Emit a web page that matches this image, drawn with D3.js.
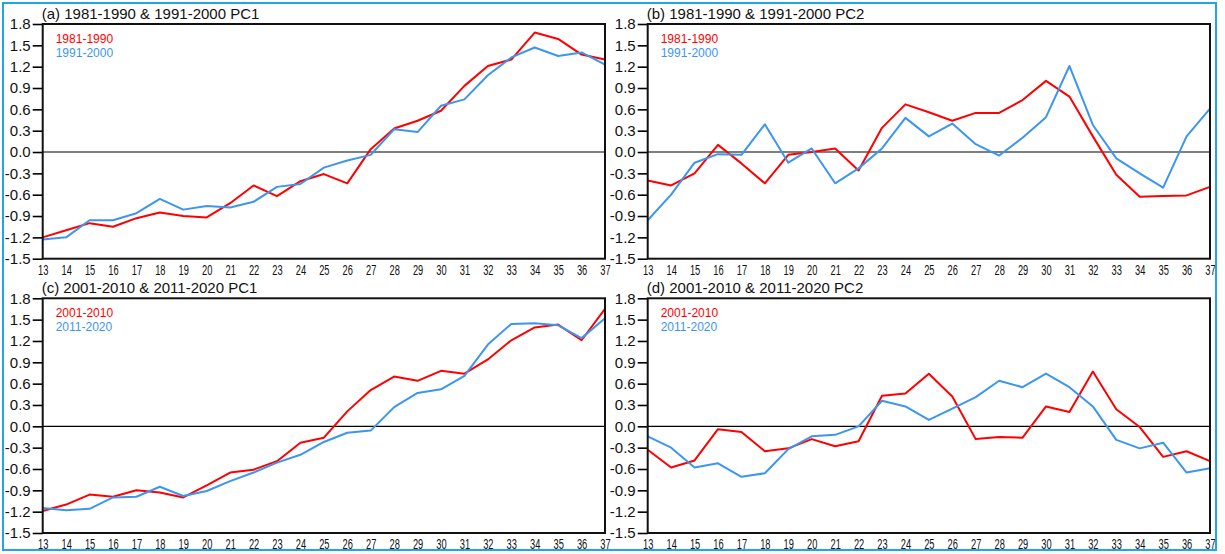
<!DOCTYPE html>
<html>
<head>
<meta charset="utf-8">
<script src="https://cdn.jsdelivr.net/npm/d3@7"></script>
<style>
	body { margin: 0; background: #fff; }
	svg { display: block; font-family: "Liberation Sans", Arial, sans-serif; }
</style>
</head>
<body>
<div id="charts"></div>
<script>
// x categories (days / pentads 13..37)
var categories = [13, 14, 15, 16, 17, 18, 19, 20, 21, 22, 23, 24, 25, 26, 27, 28, 29, 30, 31, 32, 33, 34, 35, 36, 37];
var yTicks = [-1.5, -1.2, -0.9, -0.6, -0.3, 0, 0.3, 0.6, 0.9, 1.2, 1.5, 1.8];

// (a) PC1
var pc1_1981 = [-1.20, -1.10, -1.00, -1.05, -0.93, -0.85, -0.90, -0.92, -0.72, -0.47, -0.62, -0.41, -0.31, -0.44, 0.04, 0.33, 0.44, 0.58, 0.93, 1.21, 1.30, 1.68, 1.59, 1.37, 1.30];
var pc1_1991 = [-1.23, -1.20, -0.96, -0.96, -0.86, -0.66, -0.81, -0.76, -0.78, -0.70, -0.49, -0.45, -0.22, -0.12, -0.04, 0.32, 0.28, 0.65, 0.74, 1.08, 1.33, 1.47, 1.35, 1.40, 1.23];
// (b) PC2
var pc2_1981 = [-0.40, -0.47, -0.30, 0.10, -0.16, -0.44, -0.04, 0.00, 0.05, -0.26, 0.34, 0.67, 0.56, 0.44, 0.55, 0.55, 0.73, 1.00, 0.78, 0.22, -0.32, -0.63, -0.62, -0.61, -0.49];
var pc2_1991 = [-0.96, -0.60, -0.15, -0.03, -0.04, 0.39, -0.15, 0.05, -0.44, -0.23, 0.05, 0.48, 0.22, 0.40, 0.11, -0.05, 0.20, 0.49, 1.21, 0.38, -0.09, -0.30, -0.50, 0.22, 0.61];
// (c) PC1
var pc1_2001 = [-1.19, -1.10, -0.96, -0.99, -0.90, -0.93, -1.00, -0.83, -0.65, -0.61, -0.49, -0.23, -0.16, 0.21, 0.51, 0.70, 0.64, 0.78, 0.74, 0.94, 1.21, 1.39, 1.43, 1.21, 1.65];
var pc1_2011 = [-1.15, -1.18, -1.16, -1.00, -0.99, -0.85, -0.98, -0.91, -0.77, -0.65, -0.51, -0.40, -0.22, -0.09, -0.06, 0.27, 0.47, 0.52, 0.71, 1.15, 1.44, 1.45, 1.42, 1.24, 1.52];
// (d) PC2
var pc2_2001 = [-0.33, -0.58, -0.48, -0.04, -0.08, -0.35, -0.31, -0.18, -0.28, -0.21, 0.43, 0.46, 0.74, 0.42, -0.18, -0.15, -0.16, 0.28, 0.20, 0.77, 0.24, -0.01, -0.43, -0.35, -0.49];
var pc2_2011 = [-0.14, -0.30, -0.58, -0.52, -0.71, -0.66, -0.32, -0.14, -0.12, 0.00, 0.36, 0.28, 0.09, 0.25, 0.41, 0.64, 0.55, 0.74, 0.55, 0.28, -0.19, -0.31, -0.23, -0.65, -0.59];

var RED = "#ff0000", BLUE = "#3c96f0";

var panels = [
	{ title: "(a) 1981-1990 & 1991-2000 PC1", left: 42.7, top: 24, names: ["1981-1990", "1991-2000"], series: [pc1_1981, pc1_1991] },
	{ title: "(b) 1981-1990 & 1991-2000 PC2", left: 647.7, top: 24, names: ["1981-1990", "1991-2000"], series: [pc2_1981, pc2_1991] },
	{ title: "(c) 2001-2010 & 2011-2020 PC1", left: 42.7, top: 298.3, names: ["2001-2010", "2011-2020"], series: [pc1_2001, pc1_2011] },
	{ title: "(d) 2001-2010 & 2011-2020 PC2", left: 647.7, top: 298.3, names: ["2001-2010", "2011-2020"], series: [pc2_2001, pc2_2011] }
];

var width = 1225, height = 554;
var pw = 562.3, ph = 234.7;

var svg = d3.select("#charts").append("svg")
	.attr("width", width)
	.attr("height", height);

svg.append("rect")
	.attr("width", width).attr("height", height)
	.attr("fill", "#fff");

panels.forEach(function (p) {
	var g = svg.append("g").attr("transform", "translate(" + p.left + "," + p.top + ")");

	var x = d3.scaleLinear().domain([13, 37]).range([0, pw]);
	var y = d3.scaleLinear().domain([-1.5, 1.8]).range([ph, 0]);

	// y axis
	var yAxis = g.append("g")
		.call(d3.axisLeft(y)
			.tickValues(yTicks)
			.tickSize(10)
			.tickPadding(2)
			.tickFormat(function (d) { return d.toFixed(1); }));
	yAxis.select(".domain").remove();
	yAxis.selectAll("line").attr("stroke", "#000").attr("stroke-width", 1.6);
	yAxis.selectAll("text")
		.attr("font-size", 15)
		.attr("font-family", "Liberation Sans, Arial, sans-serif")
		.attr("fill", "#111");

	// x axis, labels narrow like the original
	var xAxis = g.append("g")
		.attr("transform", "translate(0," + ph + ")")
		.call(d3.axisBottom(x).tickValues(categories).tickSize(0).tickPadding(0)
			.tickFormat(function (d) { return d; }));
	xAxis.select(".domain").remove();
	xAxis.selectAll("text")
		.attr("y", 0)
		.attr("dy", 0)
		.attr("transform", "translate(0,16) scale(0.62,1)")
		.attr("font-size", 15)
		.attr("font-family", "Liberation Sans, Arial, sans-serif")
		.attr("fill", "#111");

	// zero line
	g.append("line")
		.attr("x1", 0).attr("x2", pw)
		.attr("y1", y(0)).attr("y2", y(0))
		.attr("stroke", "#000").attr("stroke-width", 1.2);

	var line = d3.line()
		.x(function (d, i) { return x(categories[i]); })
		.y(function (d) { return y(d); });

	var colors = [RED, BLUE];
	// blue drawn first, red over it? original shows blue over red in places; draw red then blue
	p.series.forEach(function (s, k) {
		g.append("path")
			.datum(s)
			.attr("d", line)
			.attr("fill", "none")
			.attr("stroke", colors[k])
			.attr("stroke-width", 2)
			.attr("stroke-linejoin", "round");
	});

	// frame
	g.append("rect")
		.attr("width", pw).attr("height", ph)
		.attr("fill", "none")
		.attr("stroke", "#111")
		.attr("stroke-width", 2);

	// title
	g.append("text")
		.attr("x", -1).attr("y", -5)
		.attr("font-size", 15)
		.attr("fill", "#111")
		.text(p.title);

	// legend
	p.names.forEach(function (n, k) {
		g.append("text")
			.attr("x", 13).attr("y", 19 + k * 14)
			.attr("font-size", 12)
			.attr("fill", colors[k])
			.text(n);
	});
});

// outer blue border
svg.append("rect")
	.attr("x", 3).attr("y", 3)
	.attr("width", 1213).attr("height", 547)
	.attr("fill", "none")
	.attr("stroke", "#1ea6e6")
	.attr("stroke-width", 2);
</script>
</body>
</html>
